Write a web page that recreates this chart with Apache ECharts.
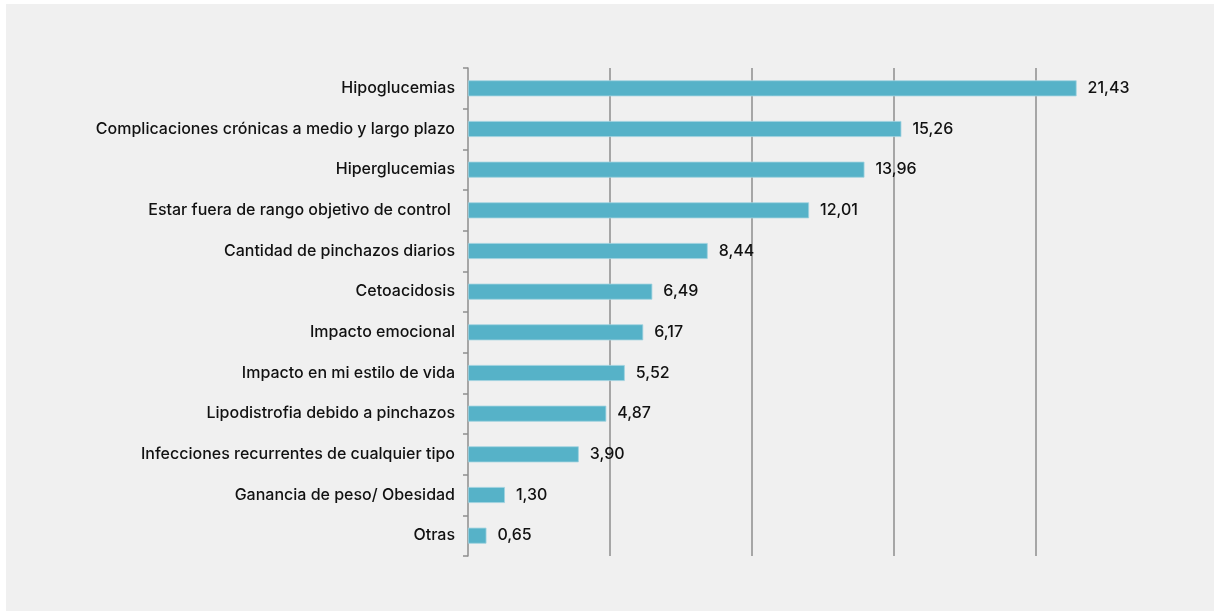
<!DOCTYPE html>
<html>
<head>
<meta charset="utf-8">
<script src="https://cdn.jsdelivr.net/npm/echarts@6/dist/echarts.min.js"></script>
<style>
  html, body { margin: 0; padding: 0; background: #ffffff; }
  #panel { position: absolute; left: 6px; top: 4px; width: 1208px; height: 607px; background: #f0f0f0; }
  #chart { position: absolute; left: 0; top: 0; width: 1214px; height: 611px; }
</style>
</head>
<body>
<div id="panel"></div>
<div id="chart"></div>
<script>
// Categories listed top to bottom
const categories = [
  'Hipoglucemias',
  'Complicaciones crónicas a medio y largo plazo',
  'Hiperglucemias',
  'Estar fuera de rango objetivo de control ',
  'Cantidad de pinchazos diarios',
  'Cetoacidosis',
  'Impacto emocional',
  'Impacto en mi estilo de vida',
  'Lipodistrofia debido a pinchazos',
  'Infecciones recurrentes de cualquier tipo',
  'Ganancia de peso/ Obesidad',
  'Otras'
];
const values = [21.43, 15.26, 13.96, 12.01, 8.44, 6.49, 6.17, 5.52, 4.87, 3.90, 1.30, 0.65];

const fontFamily = 'Inter, "Open Sans", sans-serif';

const chart = echarts.init(document.getElementById('chart'), null, { renderer: 'canvas' });
chart.setOption({
  backgroundColor: 'transparent',
  animation: false,
  grid: { left: 468, right: 36, top: 68, bottom: 55, containLabel: false },
  xAxis: {
    type: 'value',
    min: 0,
    max: 25,
    interval: 5,
    axisLine: { show: false },
    axisTick: { show: false },
    axisLabel: { show: false },
    splitLine: {
      show: true,
      showMinLine: false,
      showMaxLine: false,
      lineStyle: { color: '#8e8e8e', width: 1.5 }
    }
  },
  yAxis: {
    type: 'category',
    data: categories,
    inverse: true,
    axisLine: { show: true, lineStyle: { color: '#8e8e8e', width: 1.5 } },
    axisTick: { show: true, length: 5, inside: false, lineStyle: { color: '#8e8e8e', width: 1.5 } },
    axisLabel: {
      color: '#111111',
      fontSize: 16,
      fontWeight: 500,
      fontFamily: fontFamily,
      margin: 13
    },
    splitLine: { show: false }
  },
  series: [{
    type: 'bar',
    data: values,
    barWidth: 16,
    itemStyle: { color: '#56b2c8', borderColor: '#9fd2df', borderWidth: 0.8 },
    label: {
      show: true,
      position: 'right',
      distance: 11,
      color: '#111111',
      fontSize: 16,
      fontWeight: 500,
      fontFamily: fontFamily,
      formatter: p => p.value.toFixed(2).replace('.', ',')
    }
  }]
});
</script>
</body>
</html>
